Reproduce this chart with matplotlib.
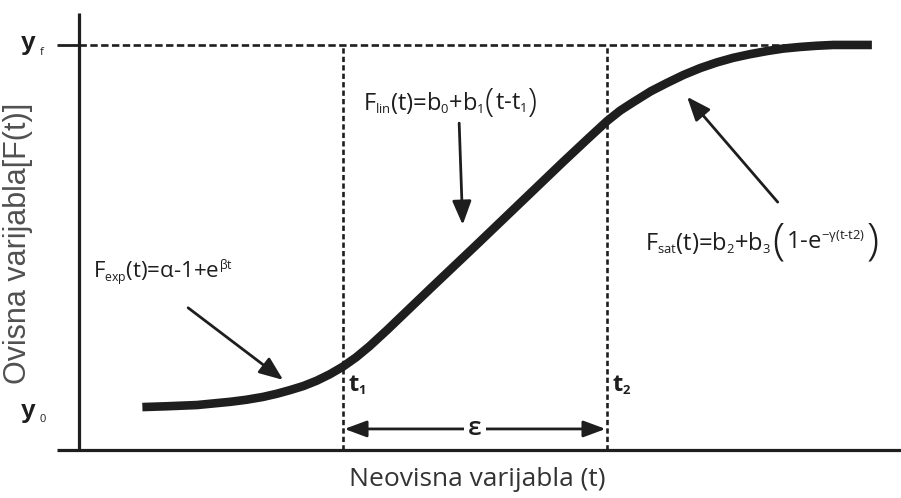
#!/usr/bin/env python3
"""Sigmoid growth scheme: exponential, linear and saturation phases."""

import matplotlib
matplotlib.use("Agg")
import matplotlib.pyplot as plt
import matplotlib._mathtext as _mt
from matplotlib.offsetbox import AnnotationBbox, HPacker, TextArea

# smaller sub/superscripts, like the reference formulas
_mt.SHRINK_FACTOR = 0.55

# ---------------------------------------------------------------------------
# Data (arbitrary units)
# ---------------------------------------------------------------------------
curve_t = [0.72, 1.00, 1.34, 1.72, 1.90, 2.09, 2.25, 2.40, 2.55, 2.70, 2.85,
           3.00, 3.15, 3.30, 3.50, 3.75, 4.00, 4.50, 5.00, 5.50, 5.80, 6.00,
           6.15, 6.30, 6.50, 6.68, 6.87, 7.06, 7.25, 7.43, 7.62, 7.82, 8.00,
           8.19, 8.38, 8.57, 9.01]
curve_f = [0.106, 0.108, 0.111, 0.119, 0.124, 0.131, 0.139, 0.148, 0.158, 0.171,
           0.187, 0.206, 0.229, 0.256, 0.296, 0.348, 0.400, 0.503, 0.607, 0.711,
           0.772, 0.812, 0.838, 0.859, 0.886, 0.906, 0.926, 0.943, 0.957, 0.968,
           0.977, 0.985, 0.991, 0.995, 0.998, 1.000, 1.000]

t1, t2 = 3.0, 6.0
y0, yf = 0.10, 1.0
eps_level = 0.052

x_axis_t = [-0.25, 9.34]
y_axis_f = [0.0, 1.079]

# arrows: (tail_t, tail_f, tip_t, tip_f)
arrow_exp = (1.24, 0.351, 2.32, 0.173)
arrow_lin = (4.32, 0.807, 4.36, 0.556)
arrow_sat = (7.94, 0.612, 6.91, 0.872)

# formula pieces: (text, is_big_paren)
label_exp = [(r"$F_{exp}(t)$=α-1+$e^{βt}$", False)]
label_lin = [(r"$F_{lin}(t)$=$b_0$+$b_1$", False), ("(", True),
             (r"t-$t_1$", False), (")", True)]
label_sat = [(r"$F_{sat}(t)$=$b_2$+$b_3$", False), ("(", True),
             (r"1-$e^{-γ(t\text{-}t2)}$", False), (")", True)]

INK = "#1e1e1e"

plt.rcParams["font.family"] = ["Open Sans", "DejaVu Sans"]
plt.rcParams["mathtext.fontset"] = "custom"
plt.rcParams["mathtext.rm"] = "Open Sans"
plt.rcParams["mathtext.it"] = "Open Sans"
plt.rcParams["mathtext.bf"] = "Open Sans:bold"

fig = plt.figure(figsize=(9.01, 4.98), dpi=100)
ax = fig.add_axes([0, 0, 1, 1])
ax.set_xlim(-0.898, 9.341)
ax.set_ylim(-0.1185, 1.111)
ax.axis("off")

# axes lines
ax.plot(x_axis_t, [0, 0], color=INK, lw=2.3, solid_capstyle="butt")
ax.plot([0, 0], y_axis_f, color=INK, lw=2.3, solid_capstyle="butt")

# yf tick + dashed level
ax.plot([-0.25, 0], [yf, yf], color=INK, lw=2.0, solid_capstyle="butt")
ax.plot([0, 8.7], [yf, yf], color=INK, lw=1.9, dashes=(2.8, 1.3))

# t1 / t2 dashed verticals
for tv in (t1, t2):
    ax.plot([tv, tv], [0, yf], color=INK, lw=1.9, dashes=(2.0, 1.2))

# main curve
ax.plot(curve_t, curve_f, color=INK, lw=6.2, solid_joinstyle="round",
        solid_capstyle="butt", zorder=5)

# annotation arrows
head = "-|>,head_length=1.45,head_width=0.58"
for tt, tf, ht, hf in (arrow_exp, arrow_lin, arrow_sat):
    ax.annotate("", xy=(ht, hf), xytext=(tt, tf),
                arrowprops=dict(arrowstyle=head, lw=2.0, color=INK,
                                shrinkA=0, shrinkB=0))

# epsilon double arrow
ax.annotate("", xy=(t2, eps_level), xytext=(t1, eps_level),
            arrowprops=dict(arrowstyle="<|-|>,head_length=1.35,head_width=0.5",
                            lw=2.0, color=INK, shrinkA=1, shrinkB=1))
ax.text((t1 + t2) / 2, eps_level, "ε", ha="center", va="center",
        fontsize=19, fontweight="semibold", color=INK,
        bbox=dict(boxstyle="square,pad=0.15", fc="white", ec="none"))


def formula(pieces, xy, size, paren_size):
    """Place a formula built from pieces, with enlarged parentheses."""
    boxes = []
    for txt, big in pieces:
        fs = paren_size if big else size
        weight = "light" if big else "normal"
        boxes.append(TextArea(txt, textprops=dict(fontsize=fs, color=INK,
                                                  fontweight=weight)))
    pack = HPacker(children=boxes, align="center", pad=0, sep=1)
    ab = AnnotationBbox(pack, xy, xycoords="data", box_alignment=(0, 0.5),
                        frameon=False, pad=0)
    ax.add_artist(ab)


formula(label_exp, (0.16, 0.44), 16, 16)
formula(label_lin, (3.23, 0.857), 17, 24)
formula(label_sat, (6.43, 0.511), 17, 32)

# t1 / t2 labels
ax.text(t1 + 0.06, 0.16, r"$\mathbf{t_1}$", fontsize=17, color=INK,
        va="center", ha="left")
ax.text(t2 + 0.06, 0.16, r"$\mathbf{t_2}$", fontsize=17, color=INK,
        va="center", ha="left")

# y0 / yf labels
ax.text(-0.50, yf + 0.004, "y", fontsize=19, fontweight="bold", color=INK,
        va="center", ha="right", family="Liberation Sans")
ax.text(-0.40, yf - 0.018, "f", fontsize=8, color=INK, va="center", ha="right")
ax.text(-0.50, y0 - 0.004, "y", fontsize=19, fontweight="bold", color=INK,
        va="center", ha="right", family="Liberation Sans")
ax.text(-0.38, y0 - 0.024, "0", fontsize=8, color=INK, va="center", ha="right")

# axis titles
ax.text(4.53, -0.074, "Neovisna varijabla (t)", fontsize=19, color="#333333",
        ha="center", va="center")
ax.text(-0.69, 0.51, "Ovisna varijabla[F(t)]", fontsize=22, color="#505050",
        ha="center", va="center", rotation=90, family="Liberation Sans")

fig.savefig("out.png", dpi=100)
